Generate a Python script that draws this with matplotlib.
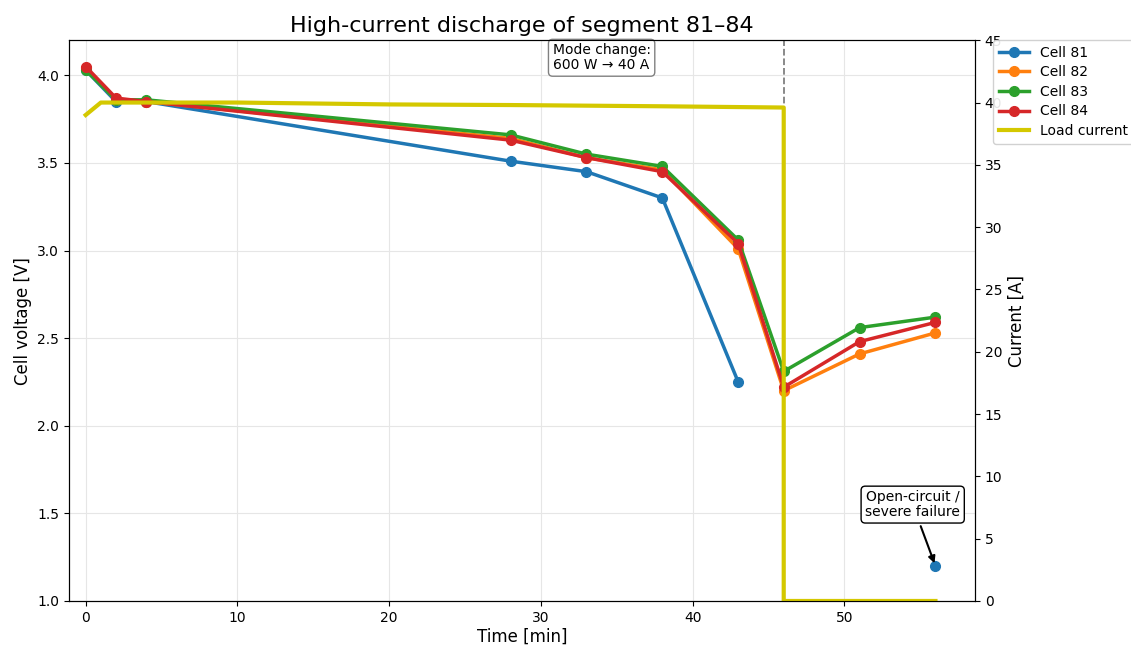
import numpy as np
import matplotlib
matplotlib.use("Agg")
import matplotlib.pyplot as plt

time_min = [0, 2, 4, 28, 33, 38, 43, 46, 51, 56]
cell81 = [4.03, 3.85, 3.85, 3.51, 3.45, 3.30, 2.25, np.nan, np.nan, 1.20]
cell82 = [4.04, 3.86, 3.85, 3.64, 3.53, 3.46, 3.01, 2.20, 2.41, 2.53]
cell83 = [4.03, 3.86, 3.86, 3.66, 3.55, 3.48, 3.06, 2.31, 2.56, 2.62]
cell84 = [4.05, 3.87, 3.85, 3.63, 3.53, 3.45, 3.04, 2.22, 2.48, 2.59]
cell_names = ["Cell 81", "Cell 82", "Cell 83", "Cell 84"]
cell_colors = ["#1f77b4", "#ff7f0e", "#2ca02c", "#d62728"]

load_time = [0, 1, 4, 10, 20, 28, 38, 46, 46, 56]
load_current = [39.0, 40.0, 40.0, 40.0, 39.85, 39.8, 39.7, 39.6, 0.0, 0.0]

fig = plt.figure(figsize=(11.31, 6.46), dpi=100)
ax = fig.add_axes([0.061, 0.0697, 0.801, 0.868])
ax2 = ax.twinx()

for vals, name, col in zip([cell81, cell82, cell83, cell84], cell_names, cell_colors):
    t = np.array(time_min, dtype=float)
    v = np.array(vals, dtype=float)
    ax.plot(t, v, '-o', color=col, lw=2.5, markersize=7, label=name)
ax2.plot(load_time, load_current, color="#d4c800", lw=3, label="Load current")

ax.axvline(46, color="gray", ls="--", lw=1.3, zorder=0)

ax.set_xlim(-1.1, 58.6)
ax.set_ylim(1.0, 4.2)
ax2.set_ylim(0, 45)
ax.set_yticks([1.0, 1.5, 2.0, 2.5, 3.0, 3.5, 4.0])
ax2.set_yticks(range(0, 46, 5))
ax.grid(True, color="#e6e6e6", lw=0.8)
ax.set_axisbelow(True)

ax.set_xlabel("Time [min]", fontsize=12, labelpad=2)
ax.set_ylabel("Cell voltage [V]", fontsize=12)
ax2.set_ylabel("Current [A]", fontsize=12)
ax.set_title("High-current discharge of segment 81–84", fontsize=16)

ax.text(34.0, 4.10, "Mode change:\n600 W → 40 A", ha="center", va="center", fontsize=10,
        linespacing=1.05,
        bbox=dict(boxstyle="round,pad=0.3", fc="white", ec="gray"))
ax.annotate("Open-circuit /\nsevere failure", xy=(56, 1.2), xytext=(54.5, 1.55),
            ha="center", va="center", fontsize=10, linespacing=1.05,
            bbox=dict(boxstyle="round,pad=0.3", fc="white", ec="black"),
            arrowprops=dict(arrowstyle="-|>", color="black", lw=1.5))

h1, l1 = ax.get_legend_handles_labels()
h2, l2 = ax2.get_legend_handles_labels()
leg = ax2.legend(h1 + h2, l1 + l2, loc="upper left", bbox_to_anchor=(1.02, 1.0),
                 borderaxespad=0, fontsize=10, framealpha=0.9, handlelength=2.2,
                 labelspacing=0.4)

fig.savefig("out.png", dpi=100)
